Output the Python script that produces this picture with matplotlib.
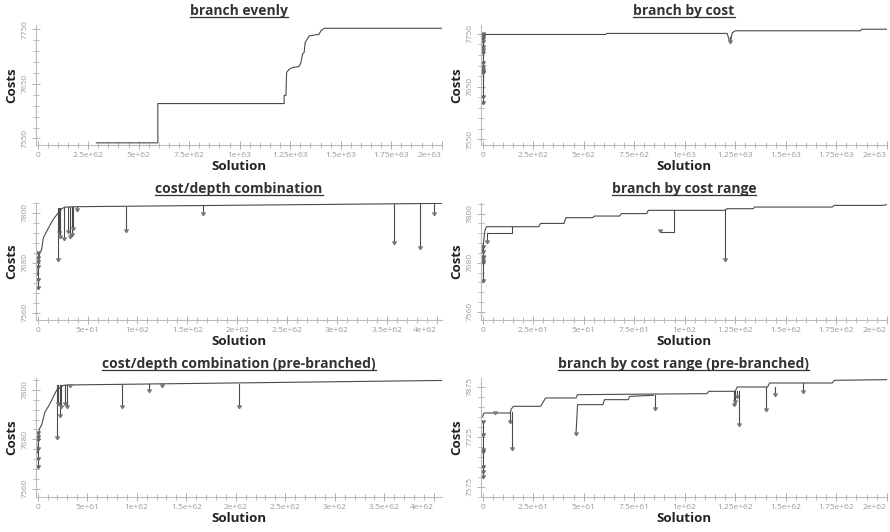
import matplotlib
matplotlib.use("Agg")
import numpy as np
import matplotlib.pyplot as plt
from matplotlib.lines import Line2D
from matplotlib.ticker import MultipleLocator, AutoMinorLocator, FuncFormatter

plt.rcParams['font.family'] = ['Open Sans', 'DejaVu Sans']

# ---- branch evenly ----
even_x = [2.91e62, 5.95e62, 5.95e62, 1.220e63, 1.220e63, 1.229e63, 1.232e63, 1.245e63, 1.262e63,
          1.294e63, 1.303e63, 1.311e63, 1.319e63, 1.324e63, 1.344e63, 1.393e63, 1.401e63, 1.418e63, 2.0e63]
even_y = [7542, 7542, 7614, 7614, 7629, 7629, 7671, 7677, 7680,
          7682, 7689, 7705, 7708, 7726, 7738, 7741, 7747, 7752, 7752]
even_drops = []
even_zero = []

# ---- branch by cost ----
cost_x = [0, 6.1e62, 6.15e62, 1.21e63, 1.215e63, 1.225e63, 1.235e63, 1.25e63, 1.87e63, 1.875e63, 2.0e63]
cost_y = [7749, 7749, 7751, 7751, 7745, 7733, 7752, 7756, 7756, 7759, 7759]
cost_drops = [(1.225e63, 7745, 7733)]
cost_zero = [7748, 7745, 7742, 7739, 7733, 7723, 7717, 7711, 7692, 7686, 7680, 7676, 7673, 7629, 7617]

# ---- cost/depth combination ----
cd_x = [0, 0.17e61, 0.4e61, 0.57e61, 1.0e61, 1.57e61, 2.07e61, 2.4e61, 2.73e61, 3.9e61, 4.05e62]
cd_y = [7650, 7700, 7712, 7740, 7760, 7785, 7800, 7810, 7814, 7815, 7823]
cd_drops = [(2.0e61, 7812, 7684), (2.15e61, 7812, 7750), (2.2e61, 7812, 7740), (2.6e61, 7814, 7735),
            (3.0e61, 7814, 7752), (3.2e61, 7814, 7740), (3.4e61, 7814, 7745), (3.5e61, 7814, 7760),
            (3.9e61, 7815, 7805), (8.9e61, 7815, 7755), (1.66e62, 7816, 7796), (3.57e62, 7821, 7726),
            (3.83e62, 7822, 7714), (3.97e62, 7822, 7796)]
cd_zero = [7700, 7688, 7680, 7668, 7636, 7616]

# ---- branch by cost range ----
cr_x = [0, 1.2e60, 2e60, 2.78e61, 2.87e61, 4.03e61, 4.12e61, 5.45e61, 5.53e61, 6.78e61, 6.87e61,
        8.12e61, 8.2e61, 1.2e62, 1.21e62, 1.34e62, 1.345e62, 1.73e62, 1.74e62, 1.98e62, 2.0e62]
cr_y = [7708, 7760, 7768, 7768, 7776, 7776, 7790, 7790, 7794, 7794, 7800,
        7800, 7808, 7808, 7812, 7812, 7816, 7816, 7820, 7820, 7822]
cr_side_x = [[2e60, 1.45e61, 1.45e61], [8.78e61, 9.45e61, 9.45e61]]
cr_side_y = [[7752, 7752, 7768], [7754, 7754, 7808]]
cr_drops = [(1.2e62, 7812, 7684), (2e60, 7752, 7728), (8.78e61, 7754, 7754)]
cr_zero = [7716, 7704, 7692, 7688, 7682, 7676, 7632]

# ---- cost/depth combination (pre-branched) ----
cdp_x = [0, 1.7e60, 4e60, 7.4e60, 1.25e61, 1.93e61, 2.6e61, 2.94e61, 4.08e62]
cdp_y = [7647, 7705, 7715, 7746, 7767, 7800, 7811, 7812, 7823]
cdp_drops = [(1.93e61, 7811, 7682), (2.1e61, 7811, 7763), (2.26e61, 7811, 7734), (2.36e61, 7811, 7755),
             (2.77e61, 7812, 7763), (2.94e61, 7812, 7755), (3.28e61, 7812, 7808), (8.5e61, 7813, 7755),
             (1.12e62, 7814, 7796), (1.26e62, 7814, 7806), (2.03e62, 7815, 7755)]
cdp_zero = [7692, 7684, 7676, 7655, 7630, 7610]

# ---- branch by cost range (pre-branched) ----
crp_x = [0, 8e59, 1.37e61, 1.42e61, 1.53e61, 2.87e61, 3.12e61, 4.62e61, 4.7e61, 1.11e62, 1.12e62,
         1.25e62, 1.26e62, 1.41e62, 1.42e62, 1.73e62, 1.74e62, 2.0e62]
crp_y = [7787, 7797, 7797, 7809, 7817, 7817, 7842, 7842, 7852, 7855, 7862,
         7862, 7875, 7875, 7887, 7887, 7895, 7897]
crp_side_x = [[4.62e61, 4.7e61, 5.95e61, 6.03e61, 7.2e61, 7.28e61, 8.45e61]]
crp_side_y = [[7732, 7822, 7822, 7837, 7837, 7847, 7850]]
crp_drops = [(6.2e60, 7797, 7795), (1.37e61, 7797, 7767), (1.45e61, 7800, 7687), (4.62e61, 7735, 7732),
             (8.53e61, 7852, 7807), (1.245e62, 7862, 7817), (1.25e62, 7862, 7827), (1.26e62, 7862, 7842),
             (1.27e62, 7862, 7757), (1.40e62, 7875, 7802), (1.445e62, 7875, 7847), (1.587e62, 7887, 7857)]
crp_zero = [7767, 7727, 7682, 7677, 7632, 7617, 7602]

line_col = '#4a4a4a'
tick_col = '#b0b0b0'


def draw_panel(ax, title, px, py, drops, zero, xlim, ylim, xmax_tick, xstep, ystep, yoff,
               sides_x=(), sides_y=()):
    ax.plot(px, py, color=line_col, lw=0.8)
    for sx, sy in zip(sides_x, sides_y):
        ax.plot(sx, sy, color=line_col, lw=0.8)
    for x, top, bot in drops:
        ax.plot([x, x], [top, bot], color=line_col, lw=0.8)
        ax.plot([x], [bot], marker=7, ms=2.5, color='#777777')
    if zero:
        ax.plot([0, 0], [min(zero), max(zero)], color=line_col, lw=0.8)
        ax.plot([0] * len(zero), zero, ls='none', marker=7, ms=2.5, color='#666666')
    xt = np.linspace(0, xmax_tick, int(round(xmax_tick / xstep)) + 1)
    ax.set_xticks(xt, ['%g' % v for v in xt])
    ax.get_xticklabels()[-1].set_ha('right')
    ax.set_xlim(*xlim)
    ax.set_ylim(*ylim)
    ax.yaxis.set_major_locator(MultipleLocator(ystep, offset=yoff))
    ax.xaxis.set_minor_locator(AutoMinorLocator(5))
    ax.yaxis.set_minor_locator(AutoMinorLocator(5))
    ax.yaxis.set_major_formatter(FuncFormatter(lambda v, p: '%g' % v))
    for s in ['top', 'right']:
        ax.spines[s].set_visible(False)
    for s in ['left', 'bottom']:
        ax.spines[s].set_color('#bbbbbb')
        ax.spines[s].set_linewidth(0.8)
    ax.tick_params(which='major', direction='inout', length=6, width=0.7, color=tick_col,
                   labelsize=6, labelcolor='#9a9a9a', pad=2)
    ax.tick_params(which='minor', direction='inout', length=4, width=0.6, color=tick_col)
    for lab in ax.get_yticklabels():
        lab.set_rotation(90)
        lab.set_va('center')
    ax.set_title(title, fontsize=10, fontweight='bold', color='#333333', pad=7)
    ax.set_xlabel('Solution', fontsize=9.5, fontweight='bold', color='#222222', labelpad=1)
    ax.set_ylabel('Costs', fontsize=9.5, fontweight='bold', color='#222222', labelpad=3)


fig = plt.figure(figsize=(8.9, 5.32), dpi=100)
lefts = [0.0404, 0.5404]
rows = [(0.7274, 0.2256), (0.3985, 0.22), (0.0658, 0.2237)]
w = 0.456
axs = [[fig.add_axes([l, b, w, h]) for l in lefts] for b, h in rows]

draw_panel(axs[0][0], 'branch evenly', even_x, even_y, even_drops, even_zero,
           (-0.8e61, 2.0e63), (7538, 7758), 2.0e63, 2.5e62, 100, 50)
draw_panel(axs[0][1], 'branch by cost', cost_x, cost_y, cost_drops, cost_zero,
           (-0.8e61, 2.0e63), (7539, 7767), 2.0e63, 2.5e62, 100, 50)
draw_panel(axs[1][0], 'cost/depth combination', cd_x, cd_y, cd_drops, cd_zero,
           (-0.17e61, 4.05e62), (7542, 7824), 4e62, 5e61, 120, 0)
draw_panel(axs[1][1], 'branch by cost range', cr_x, cr_y, cr_drops, cr_zero,
           (-0.08e61, 2.0e62), (7540, 7826), 2e62, 2.5e61, 120, 0, cr_side_x, cr_side_y)
draw_panel(axs[2][0], 'cost/depth combination (pre-branched)', cdp_x, cdp_y, cdp_drops, cdp_zero,
           (-0.17e61, 4.08e62), (7540, 7829), 4e62, 5e61, 120, 0)
draw_panel(axs[2][1], 'branch by cost range (pre-branched)', crp_x, crp_y, crp_drops, crp_zero,
           (-0.08e61, 2.0e62), (7545, 7902), 2e62, 2.5e61, 150, 75, crp_side_x, crp_side_y)

# underline the titles
fig.canvas.draw()
r = fig.canvas.get_renderer()
for row in axs:
    for ax in row:
        bb = ax.title.get_window_extent(r)
        yy = bb.y0 + 1
        fig.add_artist(Line2D([bb.x0 / fig.bbox.width, bb.x1 / fig.bbox.width],
                              [yy / fig.bbox.height, yy / fig.bbox.height],
                              color='#333333', lw=0.9, transform=fig.transFigure))

fig.savefig('out.png', dpi=100)
